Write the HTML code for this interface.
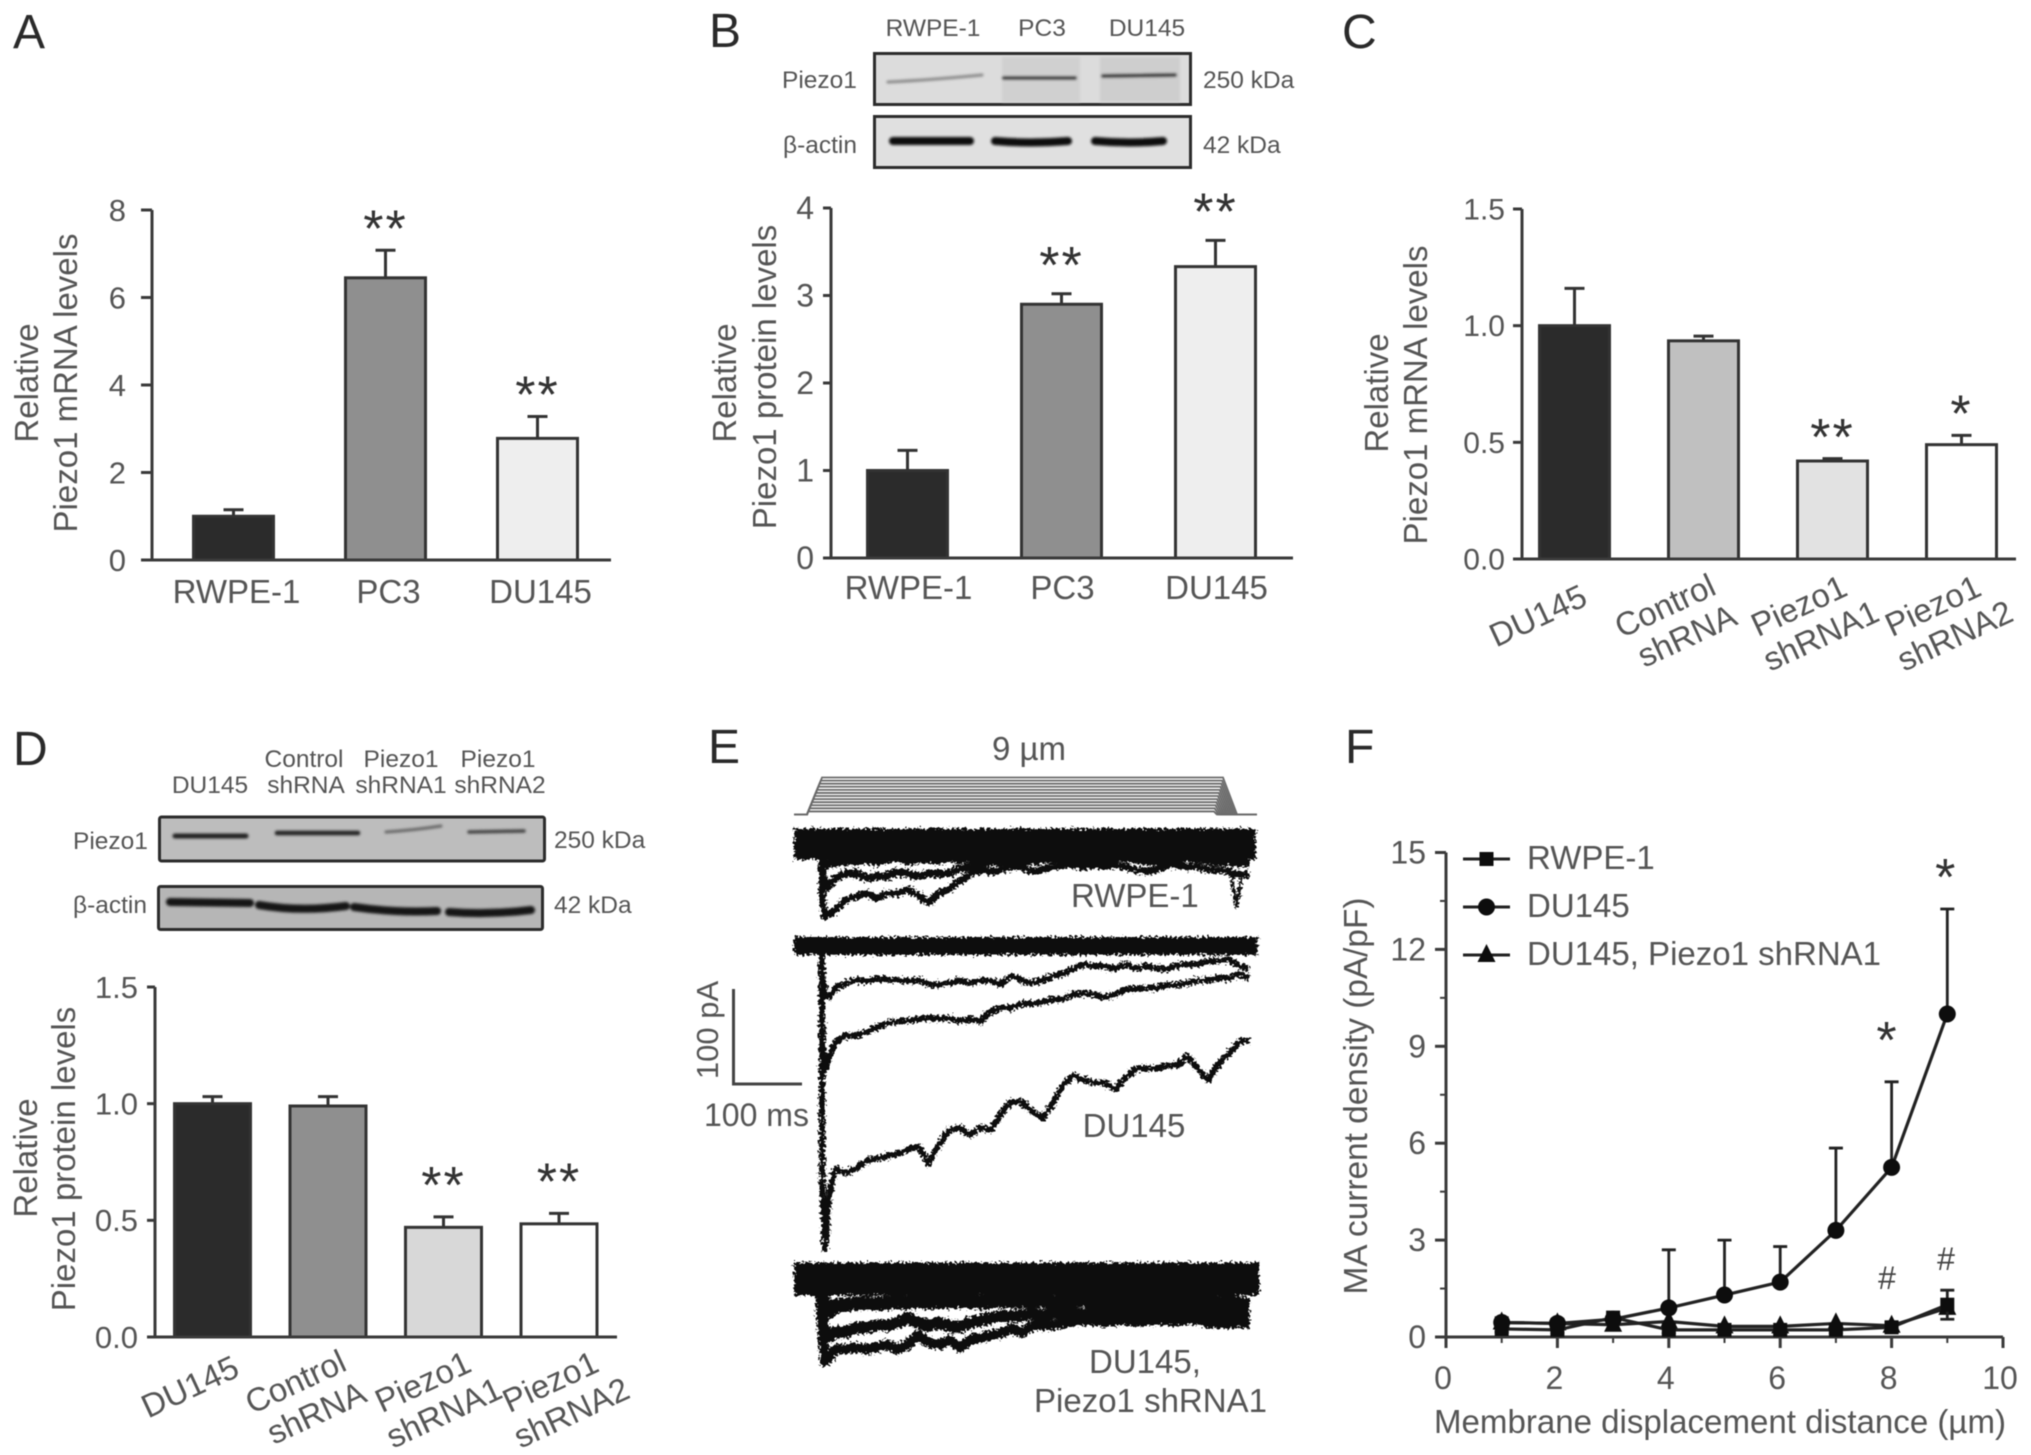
<!DOCTYPE html>
<html lang="en">
<head>
<meta charset="utf-8">
<title>Piezo1 expression and MA currents</title>
<style>
html,body{margin:0;padding:0;background:#fff;}
svg{display:block;filter:blur(0.6px);}
text{font-family:"Liberation Sans",sans-serif;fill:#555;}
.letter{font-size:48px;fill:#2a2a2a;}
.title{font-size:33px;}
.small{font-size:24.5px;}
.lbl{font-size:33px;}
</style>
</head>
<body>
<svg id="figure" xmlns="http://www.w3.org/2000/svg" width="2031" height="1455" viewBox="0 0 2031 1455">
<defs>
<filter id="fuzz" filterUnits="userSpaceOnUse" x="0" y="0" width="2031" height="1455"><feTurbulence type="fractalNoise" baseFrequency="0.4" numOctaves="2" seed="3" result="n"/><feDisplacementMap in="SourceGraphic" in2="n" scale="9" xChannelSelector="R" yChannelSelector="G"/></filter>
<filter id="soft" filterUnits="userSpaceOnUse" x="0" y="0" width="2031" height="1455"><feGaussianBlur stdDeviation="1.2"/></filter>
</defs>
<rect x="0" y="0" width="2031" height="1455" fill="#fff"/>

<g id="panel-a">
<text class="letter" x="13" y="48">A</text>
<text class="title" transform="translate(38,383) rotate(-90)" text-anchor="middle">Relative</text>
<text class="title" transform="translate(77,383) rotate(-90)" text-anchor="middle">Piezo1 mRNA levels</text>
</g>

<g id="panel-b">
<text class="letter" x="709" y="47">B</text>
<text class="small" x="933" y="36" text-anchor="middle">RWPE-1</text>
<text class="small" x="1042" y="36" text-anchor="middle">PC3</text>
<text class="small" x="1147" y="36" text-anchor="middle">DU145</text>
<rect x="874.5" y="53.5" width="316" height="51" fill="#dcdcdc" stroke="#2c2c2c" stroke-width="3"/>
<g filter="url(#soft)" fill="none" stroke-linecap="round">
<rect x="1002" y="57" width="78" height="45" fill="#d0d0d0"/>
<rect x="1100" y="57" width="80" height="45" fill="#cecece"/>
<path d="M888 82 Q930 80 982 75" stroke="#8a8a8a" stroke-width="3"/>
<path d="M1004 78 L1075 78" stroke="#333" stroke-width="4"/>
<path d="M1103 76 L1175 75" stroke="#333" stroke-width="4"/>
</g>
<text class="small" x="782" y="88">Piezo1</text>
<text class="small" x="1203" y="88">250 kDa</text>
<rect x="874.5" y="116.5" width="316" height="51" fill="#e0e0e0" stroke="#2c2c2c" stroke-width="3"/>
<g filter="url(#soft)" fill="none" stroke="#111" stroke-width="8" stroke-linecap="round">
<path d="M893 141 L970 141"/>
<path d="M995 141 Q1030 144 1068 141"/>
<path d="M1095 141 Q1130 144 1163 141"/>
</g>
<text class="small" x="783" y="153">β-actin</text>
<text class="small" x="1203" y="153">42 kDa</text>
<text class="title" transform="translate(736,383) rotate(-90)" text-anchor="middle">Relative</text>
<text class="title" transform="translate(776,377) rotate(-90)" text-anchor="middle">Piezo1 protein levels</text>
</g>

<g id="panel-c">
<text class="letter" x="1342" y="48">C</text>
<text class="title" transform="translate(1388,393) rotate(-90)" text-anchor="middle">Relative</text>
<text class="title" transform="translate(1427,395) rotate(-90)" text-anchor="middle">Piezo1 mRNA levels</text>
</g>

<g id="panel-d">
<text class="letter" x="13" y="765">D</text>
<text class="small" x="210" y="793" text-anchor="middle">DU145</text>
<text class="small" x="304" y="767" text-anchor="middle">Control</text>
<text class="small" x="306" y="793" text-anchor="middle">shRNA</text>
<text class="small" x="401" y="767" text-anchor="middle">Piezo1</text>
<text class="small" x="401" y="793" text-anchor="middle">shRNA1</text>
<text class="small" x="498" y="767" text-anchor="middle">Piezo1</text>
<text class="small" x="500" y="793" text-anchor="middle">shRNA2</text>
<rect x="159.5" y="817" width="385" height="44" rx="2" fill="#bdbdbd" stroke="#2c2c2c" stroke-width="3"/>
<g filter="url(#soft)" fill="none" stroke-linecap="round">
<path d="M175 836 L246 836" stroke="#222" stroke-width="5"/>
<path d="M277 833 L358 833" stroke="#222" stroke-width="4.5"/>
<path d="M386 832 Q415 830 441 826" stroke="#666" stroke-width="3"/>
<path d="M469 832 L524 831" stroke="#444" stroke-width="3.5"/>
</g>
<text class="small" x="73" y="849">Piezo1</text>
<text class="small" x="554" y="848">250 kDa</text>
<rect x="158.5" y="886.5" width="384" height="43" rx="2" fill="#b6b6b6" stroke="#2c2c2c" stroke-width="3"/>
<g filter="url(#soft)" fill="none" stroke="#151515" stroke-width="8" stroke-linecap="round">
<path d="M170 902 L250 903"/>
<path d="M259 905 Q300 912 346 906"/>
<path d="M354 907 Q395 913 437 911"/>
<path d="M449 912 Q490 915 531 910"/>
</g>
<text class="small" x="73" y="913">β-actin</text>
<text class="small" x="554" y="913">42 kDa</text>
<text class="title" transform="translate(37,1158) rotate(-90)" text-anchor="middle">Relative</text>
<text class="title" transform="translate(75,1159) rotate(-90)" text-anchor="middle">Piezo1 protein levels</text>
</g>

<g id="panel-e">
<text class="letter" x="708" y="763">E</text>
<text class="lbl" x="1029" y="760" text-anchor="middle">9 µm</text>
<path d="M733.5 989 L733.5 1084 L802 1084" fill="none" stroke="#444" stroke-width="3"/>
<text transform="translate(718,1030) rotate(-90)" text-anchor="middle" style="font-size:31px">100 pA</text>
<text class="lbl" x="704" y="1126" style="font-size:32px">100 ms</text>
<text class="lbl" x="1071" y="907">RWPE-1</text>
<text class="lbl" x="1134" y="1137" text-anchor="middle">DU145</text>
<text class="lbl" x="1089" y="1373">DU145,</text>
<text class="lbl" x="1034" y="1412">Piezo1 shRNA1</text>
</g>

<g id="panel-f">
<text class="letter" x="1345" y="763">F</text>
<text class="lbl" transform="translate(1367,1096) rotate(-90)" text-anchor="middle" textLength="397" lengthAdjust="spacingAndGlyphs">MA current density (pA/pF)</text>
<text class="lbl" x="1720" y="1433" text-anchor="middle" textLength="572" lengthAdjust="spacingAndGlyphs">Membrane displacement distance (µm)</text>
</g>
</svg>

<script>
// ---------- Panel A data ----------
const aCategories = ["RWPE-1", "PC3", "DU145"];
const aValues = [1.0, 6.45, 2.78];
const aErrors = [0.15, 0.63, 0.5];
const aStars = ["", "**", "**"];
const aTicks = [0, 2, 4, 6, 8];
const aTickLabels = ["0", "2", "4", "6", "8"];
// ---------- Panel B data ----------
const bCategories = ["RWPE-1", "PC3", "DU145"];
const bValues = [1.0, 2.9, 3.33];
const bErrors = [0.23, 0.12, 0.3];
const bStars = ["", "**", "**"];
const bTicks = [0, 1, 2, 3, 4];
const bTickLabels = ["0", "1", "2", "3", "4"];
// ---------- Panel C data ----------
const cCategories = ["DU145", "Control\nshRNA", "Piezo1\nshRNA1", "Piezo1\nshRNA2"];
const cValues = [1.0, 0.935, 0.42, 0.49];
const cErrors = [0.16, 0.02, 0.01, 0.04];
const cStars = ["", "", "**", "*"];
const cTicks = [0, 0.5, 1.0, 1.5];
const cTickLabels = ["0.0", "0.5", "1.0", "1.5"];
// ---------- Panel D data ----------
const dCategories = ["DU145", "Control\nshRNA", "Piezo1\nshRNA1", "Piezo1\nshRNA2"];
const dValues = [1.0, 0.99, 0.47, 0.485];
const dErrors = [0.03, 0.04, 0.045, 0.045];
const dStars = ["", "", "**", "**"];
const dTicks = [0, 0.5, 1.0, 1.5];
const dTickLabels = ["0.0", "0.5", "1.0", "1.5"];
const fourFills = ["#2b2b2b", "#8f8f8f", "#d8d8d8", "#ffffff"];
// ---------- Panel E data: current in pA at traceTimes (ms after sweep start) ----------
const traceTimes = [41,45,51,60,75,90,105,120,135,150,165,180,195,210,225,240,255,270,285,300,315,330,345,360,375,390,405,420,435,450,465,480,495,510,525,540,555,570,585,600,615,630,645,660];
const rwpeTraceA = [-14,-22,-21,-19,-17,-18,-16,-19,-15,-14,-18,-16,-15,-17,-14,-16,-15,-13,-14,-15,-13,-16,-14,-15,-13,-14,-15,-13,-12,-14,-13,-15,-14,-15,-13,-14,-16,-13,-14,-15,-16,-16,-15,-17];
const rwpeTraceB = [-31,-46,-44,-36,-31,-31,-36,-34,-34,-29,-31,-34,-31,-31,-31,-26,-24,-21,-19,-19,-18,-19,-18,-17,-16,-15,-19,-16,-19,-18,-15,-14,-16,-18,-19,-15,-17,-14,-16,-18,-19,-19,-20,-21];
const rwpeTraceC = [-59,-77,-74,-69,-59,-55,-52,-57,-52,-52,-48,-54,-62,-52,-47,-39,-32,-27,-29,-27,-24,-24,-29,-27,-24,-22,-22,-24,-22,-24,-22,-24,-27,-29,-27,-22,-22,-24,-24,-27,-27,-29,-32,-32];
const rwpeArtefactTimes = [632, 641, 650];
const rwpeArtefact = [-25, -66, -28];
const duTraceA = [-31,-51,-54,-44,-39,-36,-37,-35,-35,-36,-37,-36,-40,-41,-39,-36,-39,-36,-37,-40,-31,-36,-39,-36,-32,-29,-24,-19,-21,-21,-24,-19,-24,-21,-24,-24,-21,-19,-19,-16,-16,-14,-21,-24];
const duTraceB = [-101,-131,-116,-101,-94,-94,-91,-86,-81,-79,-79,-77,-76,-76,-76,-79,-77,-79,-69,-65,-65,-61,-61,-59,-56,-56,-51,-50,-51,-54,-51,-46,-45,-44,-44,-41,-41,-39,-36,-36,-34,-34,-29,-34];
const duTraceC = [-250,-319,-261,-234,-239,-234,-226,-224,-221,-219,-214,-211,-229,-209,-194,-191,-199,-191,-194,-176,-164,-164,-174,-181,-166,-146,-136,-141,-144,-144,-151,-139,-129,-129,-129,-126,-126,-116,-129,-141,-124,-114,-101,-99];
const shTraceA = [-20,-36,-34,-28,-27,-26,-25,-26,-25,-24,-25,-23,-25,-24,-24,-23,-24,-25,-24,-23,-24,-23,-24,-23,-25,-24,-23,-22,-24,-23,-24,-23,-22,-23,-24,-23,-24,-22,-23,-24,-25,-24,-26,-27];
const shTraceB = [-41,-61,-61,-56,-56,-51,-51,-49,-49,-46,-41,-46,-49,-46,-49,-51,-46,-44,-41,-39,-39,-38,-37,-38,-37,-36,-36,-37,-35,-36,-35,-36,-35,-35,-36,-35,-36,-35,-34,-35,-36,-36,-37,-36];
const shTraceC = [-52,-87,-82,-74,-74,-72,-74,-72,-69,-74,-69,-59,-67,-69,-64,-72,-64,-62,-59,-57,-52,-57,-49,-49,-49,-47,-44,-44,-44,-45,-44,-43,-45,-44,-43,-44,-44,-42,-43,-46,-46,-47,-46,-47];
const stimulusSteps = [0.75, 1.5, 2.25, 3, 3.75, 4.5, 5.25, 6, 6.75, 7.5, 8.25, 9];
// ---------- Panel F data ----------
const fDistance = [1, 2, 3, 4, 5, 6, 7, 8, 9];
const fRwpe = [0.25, 0.22, 0.6, 0.22, 0.22, 0.22, 0.22, 0.3, 1.0];
const fRwpeErr = [0.1, 0.1, 0.1, 0.1, 0.1, 0.1, 0.1, 0.15, 0.45];
const fDu145 = [0.45, 0.42, 0.55, 0.9, 1.3, 1.7, 3.3, 5.25, 10.0];
const fDu145Err = [0.15, 0.13, 0.15, 1.8, 1.7, 1.1, 2.55, 2.65, 3.25];
const fShrna = [0.45, 0.42, 0.38, 0.48, 0.33, 0.33, 0.42, 0.35, 0.9];
const fYTicks = [0, 3, 6, 9, 12, 15];
const fYTickLabels = ["0", "3", "6", "9", "12", "15"];
const fYMinor = [1.5, 4.5, 7.5, 10.5, 13.5];
const fXTicks = [0, 2, 4, 6, 8, 10];
const fXTickLabels = ["0", "2", "4", "6", "8", "10"];
const fXMinor = [1, 3, 5, 7, 9];
const fSeriesNames = ["RWPE-1", "DU145", "DU145, Piezo1 shRNA1"];

const NS = "http://www.w3.org/2000/svg";
const AXIS = "#3a3a3a";
function mk(tag, attrs, parent) {
  const el = document.createElementNS(NS, tag);
  for (const k in attrs) el.setAttribute(k, attrs[k]);
  parent.appendChild(el);
  return el;
}
function stars(parent, s, cx, cy, size) {
  const el = mk("text", {x: cx, y: cy + 0.58 * size, "text-anchor": "middle", style: "font-size:" + size + "px;fill:#333;letter-spacing:2px"}, parent);
  
  
  el.textContent = s;
}
function drawBarChart(c) {
  const root = document.getElementById(c.panel);
  const g = mk("g", {}, root);
  
  
  const y = v => c.y0 - v / c.max * (c.y0 - c.yTop);
  const bx = i => c.barLeft + i * c.barStep;
  c.values.forEach((v, i) => {
    const cx = bx(i) + c.barW / 2;
    const top = y(v + c.errors[i]);
    const err = mk("path", {d: "M" + cx + " " + y(v) + "V" + top + "M" + (cx - 10) + " " + top + "H" + (cx + 10), fill: "none", stroke: "#333", "stroke-width": 3}, g);
    
    
    const bar = mk("rect", {x: bx(i) + 1.5, y: y(v), width: c.barW - 3, height: c.y0 - y(v), fill: c.fills[i], stroke: "#333", "stroke-width": 3}, g);
    
    
    if (c.stars[i]) stars(g, c.stars[i], cx, top - c.starGap, 52);
  });
  const yAxis = mk("line", {x1: c.xAxis, x2: c.xAxis, y1: c.yTop, y2: c.y0, stroke: AXIS, "stroke-width": 3}, g);
  
  
  const xAxis = mk("line", {x1: c.xStart, x2: c.xEnd, y1: c.y0, y2: c.y0, stroke: AXIS, "stroke-width": 3}, g);
  
  
  c.ticks.forEach((t, i) => {
    const tick = mk("line", {x1: c.xStart, x2: c.xAxis, y1: y(t), y2: y(t), stroke: AXIS, "stroke-width": 3}, g);
    
    
    const lab = mk("text", {x: c.tickRight, y: y(t) + c.tickSize * 0.35, "text-anchor": "end", style: "font-size:" + c.tickSize + "px"}, g);
    
    
    lab.textContent = c.tickLabels[i];
  });
  c.categories.forEach((cat, i) => {
    if (!c.rot) {
      const lab = mk("text", {x: bx(i) + c.barW / 2 + c.labelDx, y: c.labelY, "text-anchor": "middle", style: "font-size:33px"}, g);
      
      
      lab.textContent = cat;
    } else {
      const lines = cat.split("\n");
      lines.forEach((ln, j) => {
        const cx = c.rot.x0 + c.rot.step * i + (lines.length === 1 ? c.rot.singleDx : j * c.rot.lineDx);
        const cy = lines.length === 1 ? c.rot.singleY : c.rot.y + j * c.rot.lineDy;
        const lab = mk("text", {transform: "translate(" + cx + "," + cy + ") rotate(-25)", y: 11, "text-anchor": "middle", style: "font-size:33px"}, g);
        
        
        lab.textContent = ln;
      });
    }
  });
}
drawBarChart({panel: "panel-a", categories: aCategories, values: aValues, errors: aErrors, stars: aStars, ticks: aTicks, tickLabels: aTickLabels, fills: ["#2b2b2b", "#8f8f8f", "#eeeeee"], max: 8, yTop: 210, y0: 560, xAxis: 152, xStart: 141, xEnd: 611, barLeft: 192, barStep: 152, barW: 83, starGap: 34, tickRight: 126, tickSize: 31, labelDx: 3, labelY: 603});
drawBarChart({panel: "panel-b", categories: bCategories, values: bValues, errors: bErrors, stars: bStars, ticks: bTicks, tickLabels: bTickLabels, fills: ["#2b2b2b", "#8f8f8f", "#eeeeee"], max: 4, yTop: 208, y0: 558, xAxis: 831, xStart: 823, xEnd: 1293, barLeft: 866, barStep: 154, barW: 83, starGap: 41, tickRight: 814, tickSize: 32, labelDx: 1, labelY: 599});
drawBarChart({panel: "panel-c", categories: cCategories, values: cValues, errors: cErrors, stars: cStars, ticks: cTicks, tickLabels: cTickLabels, fills: ["#2b2b2b", "#c0c0c0", "#e2e2e2", "#ffffff"], max: 1.5, yTop: 209, y0: 559, xAxis: 1522, xStart: 1513, xEnd: 2016, barLeft: 1538, barStep: 129, barW: 73, starGap: 34, tickRight: 1505, tickSize: 30, rot: {x0: 1531, step: 134, y: 606, lineDx: 22, lineDy: 30, singleDx: 7, singleY: 616}});
drawBarChart({panel: "panel-d", categories: dCategories, values: dValues, errors: dErrors, stars: dStars, ticks: dTicks, tickLabels: dTickLabels, fills: fourFills, max: 1.5, yTop: 987, y0: 1337, xAxis: 155, xStart: 147, xEnd: 617, barLeft: 173, barStep: 115.5, barW: 79, starGap: 44, tickRight: 138, tickSize: 31, rot: {x0: 168, step: 127.5, y: 1382, lineDx: 21, lineDy: 31, singleDx: 22, singleY: 1387}});

// ---------- Panel E ----------
(function () {
  const root = document.getElementById("panel-e");
  const tx = t => 794 + t * 0.69;
  const stim = mk("g", {fill: "none", stroke: "#6a6a6a", "stroke-width": 1.8}, root);
  
  
  stimulusSteps.forEach(level => {
    const f = level / 9;
    const h = 814.5 - level * 4.11;
    const p = mk("polyline", {points: "794,814.5 807,814.5 " + (807 + 15 * f) + "," + h + " " + (1213 + 10 * f) + "," + h + " " + (1215 + 22 * f) + ",814.5 1257,814.5"}, stim);
    
    
  });
  const rows = [
    {name: "trace-rwpe", base: 844, band: 31, end: 669, traces: [[rwpeTraceA, 9], [rwpeTraceB, 8], [rwpeTraceC, 7]]},
    {name: "trace-du145", base: 946, band: 18, end: 672, traces: [[duTraceA, 6], [duTraceB, 6], [duTraceC, 6]]},
    {name: "trace-shrna", base: 1279, band: 33, end: 674, traces: [[shTraceA, 14], [shTraceB, 12], [shTraceC, 10]]}
  ];
  rows.forEach(r => {
    const g = mk("g", {fill: "none", stroke: "#0a0a0a", "stroke-linejoin": "round", filter: "url(#fuzz)"}, root);
    
    
    const ty = v => r.base - v * 0.95;
    const band = mk("line", {x1: tx(0), x2: tx(r.end), y1: ty(0), y2: ty(0), "stroke-width": r.band}, g);
    
    
    r.traces.forEach(tr => {
      const pts = [tx(40) + "," + ty(0)].concat(tr[0].map((v, i) => tx(traceTimes[i]) + "," + ty(v)));
      const line = mk("polyline", {points: pts.join(" "), "stroke-width": tr[1]}, g);
      
      
    });
    if (r.name === "trace-rwpe") {
      const a = mk("polyline", {points: rwpeArtefact.map((v, i) => tx(rwpeArtefactTimes[i]) + "," + ty(v)).join(" "), "stroke-width": 3.5}, g);
      
      
    }
  });
})();

// ---------- Panel F ----------
(function () {
  const root = document.getElementById("panel-f");
  const x = v => 1446 + v * 55.7;
  const y = v => 1337 - v * (484.5 / 15);
  const g = mk("g", {}, root);
  
  
  const yAxis = mk("line", {x1: x(0), x2: x(0), y1: y(15), y2: y(0), stroke: AXIS, "stroke-width": 3}, g);
  
  
  const xAxis = mk("line", {x1: x(0) - 11, x2: x(10), y1: y(0), y2: y(0), stroke: AXIS, "stroke-width": 3}, g);
  
  
  fYTicks.forEach((t, i) => {
    const tick = mk("line", {x1: x(0) - 11, x2: x(0), y1: y(t), y2: y(t), stroke: AXIS, "stroke-width": 3}, g);
    
    
    const lab = mk("text", {x: 1426, y: y(t) + 11, "text-anchor": "end", style: "font-size:32px"}, g);
    
    
    lab.textContent = fYTickLabels[i];
  });
  fYMinor.forEach(t => {
    const tick = mk("line", {x1: x(0) - 6, x2: x(0), y1: y(t), y2: y(t), stroke: AXIS, "stroke-width": 2}, g);
    
    
  });
  fXTicks.forEach((t, i) => {
    const tick = mk("line", {x1: x(t), x2: x(t), y1: y(0), y2: y(0) + 11, stroke: AXIS, "stroke-width": 3}, g);
    
    
    const lab = mk("text", {x: x(t) - 3, y: 1389, "text-anchor": "middle", style: "font-size:32px"}, g);
    
    
    lab.textContent = fXTickLabels[i];
  });
  fXMinor.forEach(t => {
    const tick = mk("line", {x1: x(t), x2: x(t), y1: y(0), y2: y(0) + 6, stroke: AXIS, "stroke-width": 2}, g);
    
    
  });
  function marker(kind, px, py, parent) {
    let m;
    if (kind === 0) m = mk("rect", {x: px - 7, y: py - 7, width: 14, height: 14, fill: "#0d0d0d"}, parent);
    else if (kind === 1) m = mk("circle", {cx: px, cy: py, r: 8.5, fill: "#0d0d0d"}, parent);
    else m = mk("polygon", {points: px + "," + (py - 11) + " " + (px + 9) + "," + (py + 7) + " " + (px - 9) + "," + (py + 7), fill: "#0d0d0d"}, parent);
    
    
  }
  const series = [
    {kind: 2, name: "series-du145-piezo1-shrna1", vals: fShrna, up: null, down: null},
    {kind: 0, name: "series-rwpe-1", vals: fRwpe, up: fRwpeErr, down: fRwpeErr},
    {kind: 1, name: "series-du145", vals: fDu145, up: fDu145Err, down: null}
  ];
  series.forEach(s => {
    const sg = mk("g", {}, g);
    
    
    const line = mk("polyline", {points: s.vals.map((v, i) => x(fDistance[i]) + "," + y(v)).join(" "), fill: "none", stroke: "#222", "stroke-width": 3.2}, sg);
    
    
    s.vals.forEach((v, i) => {
      const px = x(fDistance[i]);
      if (s.up) {
        const lo = s.down ? v - s.down[i] : v;
        const hi = v + s.up[i];
        let d = "M" + px + " " + y(lo) + "V" + y(hi) + "M" + (px - 7) + " " + y(hi) + "H" + (px + 7);
        if (s.down) d += "M" + (px - 7) + " " + y(lo) + "H" + (px + 7);
        const err = mk("path", {d: d, fill: "none", stroke: "#222", "stroke-width": 2.8}, sg);
        
        
      }
      marker(s.kind, px, y(v), sg);
    });
  });
  const legend = mk("g", {}, g);
  
  
  fSeriesNames.forEach((n, i) => {
    const ly = 859 + i * 48;
    const entry = mk("g", {}, legend);
    
    
    const l = mk("line", {x1: 1463, x2: 1510, y1: ly, y2: ly, stroke: "#222", "stroke-width": 3}, entry);
    
    
    marker(i, 1486.5, ly, entry);
    const t = mk("text", {x: 1527, y: ly + 10, style: "font-size:33px"}, entry);
    
    
    t.textContent = n;
  });
  stars(g, "*", x(9) - 1, 865, 52);
  stars(g, "*", 1887.5, 1028, 52);
  const h1 = mk("text", {x: 1887, y: 1289, "text-anchor": "middle", style: "font-size:32px;fill:#444"}, g);
  
  
  h1.textContent = "#";
  const h2 = mk("text", {x: 1946, y: 1270, "text-anchor": "middle", style: "font-size:32px;fill:#444"}, g);
  
  
  h2.textContent = "#";
})();
</script>
</body>
</html>
